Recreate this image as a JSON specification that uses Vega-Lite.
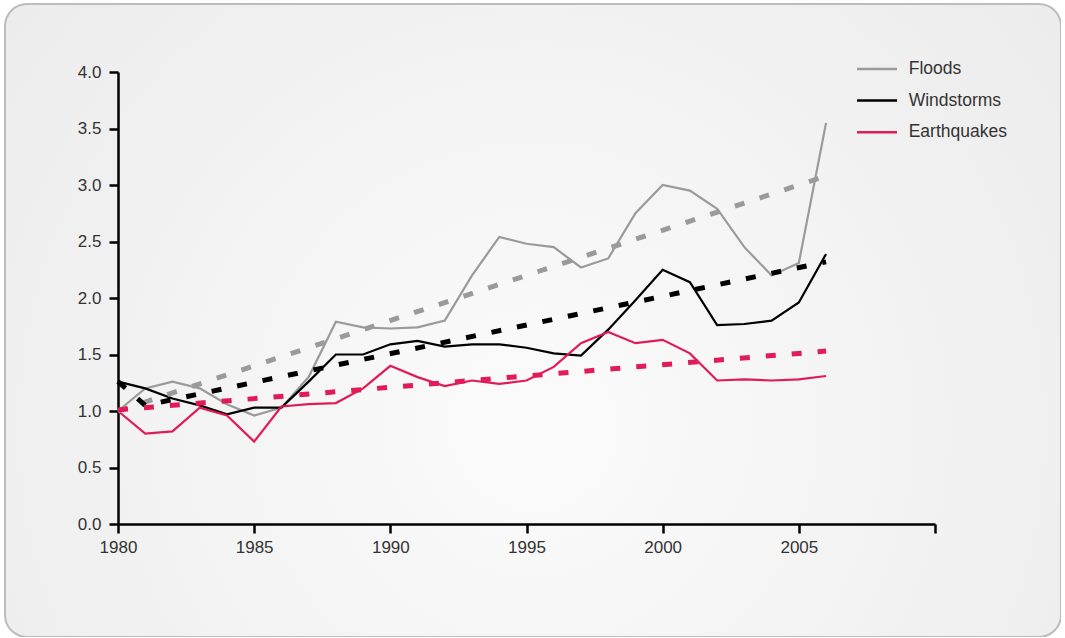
{
  "$schema": "https://vega.github.io/schema/vega-lite/v6.json",
  "width": 1056,
  "height": 633,
  "autosize": {"type": "none"},
  "padding": {"left": 5, "top": 4, "right": 0, "bottom": 0},
  "background": "#ffffff",
  "view": {
    "cornerRadius": 22,
    "stroke": "#bcbcbc",
    "strokeWidth": 2,
    "fill": {
      "gradient": "radial",
      "x1": 0.5, "y1": 0.6, "r1": 0,
      "x2": 0.5, "y2": 0.6, "r2": 0.75,
      "stops": [
        {"offset": 0, "color": "#fbfbfb"},
        {"offset": 1, "color": "#e9e9e9"}
      ]
    }
  },
  "datasets": {
    "series": [
      {"year": 1980, "series": "Floods", "value": 1.0},
      {"year": 1981, "series": "Floods", "value": 1.2},
      {"year": 1982, "series": "Floods", "value": 1.26},
      {"year": 1983, "series": "Floods", "value": 1.2},
      {"year": 1984, "series": "Floods", "value": 1.06},
      {"year": 1985, "series": "Floods", "value": 0.96},
      {"year": 1986, "series": "Floods", "value": 1.03},
      {"year": 1987, "series": "Floods", "value": 1.3},
      {"year": 1988, "series": "Floods", "value": 1.79},
      {"year": 1989, "series": "Floods", "value": 1.74},
      {"year": 1990, "series": "Floods", "value": 1.73},
      {"year": 1991, "series": "Floods", "value": 1.74},
      {"year": 1992, "series": "Floods", "value": 1.8},
      {"year": 1993, "series": "Floods", "value": 2.2},
      {"year": 1994, "series": "Floods", "value": 2.54},
      {"year": 1995, "series": "Floods", "value": 2.48},
      {"year": 1996, "series": "Floods", "value": 2.45},
      {"year": 1997, "series": "Floods", "value": 2.27},
      {"year": 1998, "series": "Floods", "value": 2.35},
      {"year": 1999, "series": "Floods", "value": 2.75},
      {"year": 2000, "series": "Floods", "value": 3.0},
      {"year": 2001, "series": "Floods", "value": 2.95},
      {"year": 2002, "series": "Floods", "value": 2.79},
      {"year": 2003, "series": "Floods", "value": 2.45},
      {"year": 2004, "series": "Floods", "value": 2.2},
      {"year": 2005, "series": "Floods", "value": 2.31},
      {"year": 2006, "series": "Floods", "value": 3.55},
      {"year": 1980, "series": "Windstorms", "value": 1.26},
      {"year": 1981, "series": "Windstorms", "value": 1.2},
      {"year": 1982, "series": "Windstorms", "value": 1.11},
      {"year": 1983, "series": "Windstorms", "value": 1.05},
      {"year": 1984, "series": "Windstorms", "value": 0.97},
      {"year": 1985, "series": "Windstorms", "value": 1.03},
      {"year": 1986, "series": "Windstorms", "value": 1.03},
      {"year": 1987, "series": "Windstorms", "value": 1.26},
      {"year": 1988, "series": "Windstorms", "value": 1.5},
      {"year": 1989, "series": "Windstorms", "value": 1.5},
      {"year": 1990, "series": "Windstorms", "value": 1.59},
      {"year": 1991, "series": "Windstorms", "value": 1.62},
      {"year": 1992, "series": "Windstorms", "value": 1.57},
      {"year": 1993, "series": "Windstorms", "value": 1.59},
      {"year": 1994, "series": "Windstorms", "value": 1.59},
      {"year": 1995, "series": "Windstorms", "value": 1.56},
      {"year": 1996, "series": "Windstorms", "value": 1.51},
      {"year": 1997, "series": "Windstorms", "value": 1.49},
      {"year": 1998, "series": "Windstorms", "value": 1.72},
      {"year": 1999, "series": "Windstorms", "value": 1.98},
      {"year": 2000, "series": "Windstorms", "value": 2.25},
      {"year": 2001, "series": "Windstorms", "value": 2.14},
      {"year": 2002, "series": "Windstorms", "value": 1.76},
      {"year": 2003, "series": "Windstorms", "value": 1.77},
      {"year": 2004, "series": "Windstorms", "value": 1.8},
      {"year": 2005, "series": "Windstorms", "value": 1.96},
      {"year": 2006, "series": "Windstorms", "value": 2.39},
      {"year": 1980, "series": "Earthquakes", "value": 1.0},
      {"year": 1981, "series": "Earthquakes", "value": 0.8},
      {"year": 1982, "series": "Earthquakes", "value": 0.82},
      {"year": 1983, "series": "Earthquakes", "value": 1.03},
      {"year": 1984, "series": "Earthquakes", "value": 0.96},
      {"year": 1985, "series": "Earthquakes", "value": 0.73},
      {"year": 1986, "series": "Earthquakes", "value": 1.04},
      {"year": 1987, "series": "Earthquakes", "value": 1.06},
      {"year": 1988, "series": "Earthquakes", "value": 1.07},
      {"year": 1989, "series": "Earthquakes", "value": 1.2},
      {"year": 1990, "series": "Earthquakes", "value": 1.4},
      {"year": 1991, "series": "Earthquakes", "value": 1.3},
      {"year": 1992, "series": "Earthquakes", "value": 1.22},
      {"year": 1993, "series": "Earthquakes", "value": 1.27},
      {"year": 1994, "series": "Earthquakes", "value": 1.24},
      {"year": 1995, "series": "Earthquakes", "value": 1.27},
      {"year": 1996, "series": "Earthquakes", "value": 1.39},
      {"year": 1997, "series": "Earthquakes", "value": 1.6},
      {"year": 1998, "series": "Earthquakes", "value": 1.7},
      {"year": 1999, "series": "Earthquakes", "value": 1.6},
      {"year": 2000, "series": "Earthquakes", "value": 1.63},
      {"year": 2001, "series": "Earthquakes", "value": 1.51},
      {"year": 2002, "series": "Earthquakes", "value": 1.27},
      {"year": 2003, "series": "Earthquakes", "value": 1.28},
      {"year": 2004, "series": "Earthquakes", "value": 1.27},
      {"year": 2005, "series": "Earthquakes", "value": 1.28},
      {"year": 2006, "series": "Earthquakes", "value": 1.31}
    ],
    "trend": [
      {"year": 1980, "series": "Floods", "value": 1.0},
      {"year": 2006, "series": "Floods", "value": 3.08},
      {"year": 1980, "series": "Windstorms", "value": 1.26},
      {"year": 1981, "series": "Windstorms", "value": 1.05},
      {"year": 2006, "series": "Windstorms", "value": 2.32},
      {"year": 1980, "series": "Earthquakes", "value": 1.01},
      {"year": 2006, "series": "Earthquakes", "value": 1.53}
    ]
  },
  "encoding": {
    "x": {
      "field": "year",
      "type": "quantitative",
      "scale": {"domain": [1980, 2010], "range": [113, 930], "nice": false, "zero": false},
      "axis": {
        "title": null,
        "values": [1980, 1985, 1990, 1995, 2000, 2005, 2010],
        "labelExpr": "datum.value == 2010 ? '' : datum.value",
        "offset": -113,
        "grid": false,
        "domainColor": "#000000",
        "domainWidth": 2.5,
        "tickColor": "#000000",
        "tickWidth": 2.5,
        "tickSize": 9,
        "labelFont": "Liberation Sans",
        "labelFontSize": 17,
        "labelColor": "#333333",
        "labelPadding": 6,
        "labelFlush": false,
        "labelOverlap": false
      }
    },
    "y": {
      "field": "value",
      "type": "quantitative",
      "scale": {"domain": [0, 4], "range": [520, 68], "nice": false, "zero": false},
      "axis": {
        "title": null,
        "values": [0, 0.5, 1, 1.5, 2, 2.5, 3, 3.5, 4],
        "format": ".1f",
        "offset": -113,
        "grid": false,
        "domainColor": "#000000",
        "domainWidth": 2.5,
        "tickColor": "#000000",
        "tickWidth": 2.5,
        "tickSize": 9,
        "labelFont": "Liberation Sans",
        "labelFontSize": 17,
        "labelColor": "#333333",
        "labelPadding": 8,
        "labelFlush": false,
        "labelOverlap": false
      }
    },
    "color": {
      "field": "series",
      "type": "nominal",
      "scale": {
        "domain": ["Floods", "Windstorms", "Earthquakes"],
        "range": ["#9a9a9a", "#000000", "#e01b58"]
      },
      "legend": {
        "title": null,
        "orient": "none",
        "legendX": 856,
        "legendY": 49,
        "padding": 0,
        "symbolType": "M-1.4,0H1.4",
        "symbolSize": 816,
        "symbolStrokeWidth": 2.5,
        "rowPadding": 6.6,
        "labelOffset": 15.7,
        "labelFont": "Liberation Sans",
        "labelFontSize": 17.5,
        "labelColor": "#333333"
      }
    }
  },
  "layer": [
    {
      "data": {"name": "series"},
      "mark": {"type": "line", "strokeWidth": 2.2, "strokeJoin": "miter"},
      "encoding": {"detail": {"field": "series"}}
    },
    {
      "data": {"name": "trend"},
      "mark": {"type": "line", "strokeWidth": 5, "strokeDash": [10, 16], "strokeCap": "butt"},
      "encoding": {"detail": {"field": "series"}}
    }
  ]
}
